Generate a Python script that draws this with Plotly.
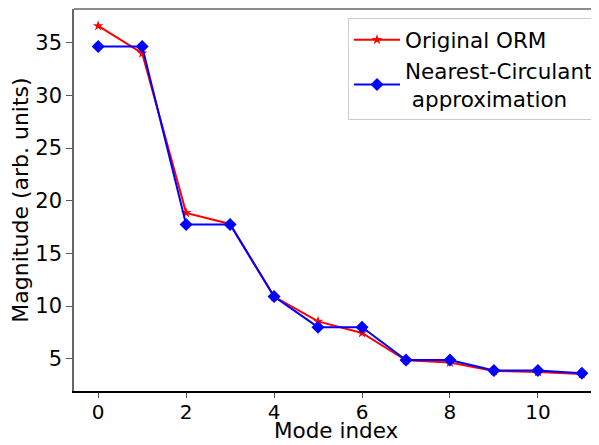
import plotly.graph_objects as go

mode_index = list(range(12))
original_orm = [36.6, 34.0, 18.85, 17.8, 10.9, 8.55, 7.45, 4.85, 4.65, 3.85, 3.75, 3.55]
nearest_circulant = [34.65, 34.65, 17.75, 17.75, 10.9, 8.0, 8.0, 4.88, 4.88, 3.88, 3.88, 3.62]
x_ticks = [0, 2, 4, 6, 8, 10]
y_ticks = [5, 10, 15, 20, 25, 30, 35]
x_label = "Mode index"
y_label = "Magnitude (arb. units)"

FONT = "DejaVu Sans"

fig = go.Figure()
fig.add_trace(go.Scatter(
    x=mode_index, y=original_orm, mode="lines+markers", name="Original ORM",
    line=dict(color="#ff0000", width=2),
    marker=dict(symbol="star", size=8, color="#ff0000"),
))
fig.add_trace(go.Scatter(
    x=mode_index, y=nearest_circulant, mode="lines+markers",
    name="Nearest-Circulant<br> approximation",
    line=dict(color="#0000ff", width=2),
    marker=dict(symbol="diamond", size=10, color="#0000ff"),
))

# page body has an 8px margin, so the figure is sized to the visible area
fig.update_layout(
    width=591, height=437,
    margin=dict(l=66, r=0, t=1, b=54, autoexpand=False),
    paper_bgcolor="white", plot_bgcolor="white",
    font=dict(family=FONT, size=21, color="black"),
    showlegend=True,
    legend=dict(
        x=1.0, y=0.976, xanchor="right", yanchor="top",
        bgcolor="rgba(255,255,255,0.8)", bordercolor="#cccccc", borderwidth=1,
        font=dict(family=FONT, size=21.5, color="black"),
        tracegroupgap=2, itemwidth=46,
    ),
    xaxis=dict(
        range=[-0.55, 11.39], tickvals=x_ticks, ticktext=[str(v) for v in x_ticks],
        showgrid=False, zeroline=False, showline=True, linecolor="black", linewidth=1.5,
        ticks="outside", ticklen=5, tickcolor="#555555", tickwidth=1.2,
        tickfont=dict(size=20), mirror=False, automargin=False, ticklabelstandoff=-3,
    ),
    yaxis=dict(
        range=[1.94, 38.2], tickvals=y_ticks, ticktext=[str(v) for v in y_ticks],
        showgrid=False, zeroline=False, showline=True, linecolor="#666666", linewidth=1.5,
        ticks="outside", ticklen=6, tickcolor="#555555", tickwidth=1.2,
        tickfont=dict(size=21), automargin=False,
        title=dict(text=y_label, font=dict(size=22), standoff=8),
    ),
    shapes=[dict(type="line", xref="paper", yref="paper", x0=0, x1=1, y0=1, y1=1,
                 line=dict(color="#666666", width=1.5))],
    annotations=[dict(text=x_label, xref="paper", yref="paper", x=0.5, y=0,
                      xanchor="center", yanchor="bottom", yshift=-54, showarrow=False,
                      font=dict(family=FONT, size=21.5, color="black"))],
)

fig.write_html("out.html")
